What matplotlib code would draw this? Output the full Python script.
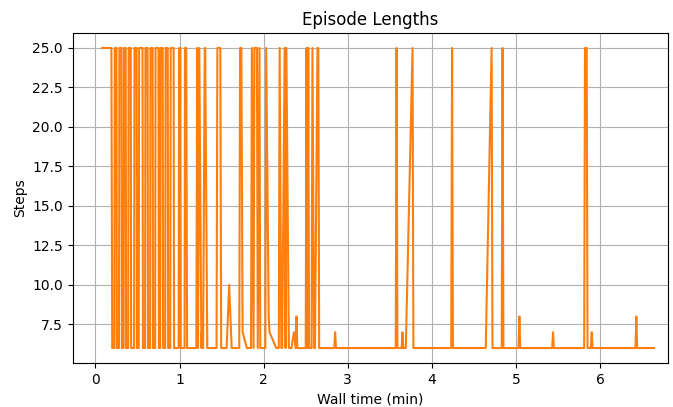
import matplotlib
matplotlib.use("Agg")
import matplotlib.pyplot as plt

# episode end times (minutes) and episode lengths
times = [0.08, 0.19, 0.20, 0.225, 0.23, 0.25, 0.255, 0.28, 0.285, 0.31, 0.315, 0.335,
         0.34, 0.36, 0.365, 0.39, 0.395, 0.42, 0.425, 0.46, 0.465, 0.49, 0.495, 0.515,
         0.52, 0.56, 0.565, 0.59, 0.595, 0.62, 0.625, 0.65, 0.655, 0.68, 0.685, 0.71,
         0.715, 0.75, 0.755, 0.77, 0.775, 0.80, 0.805, 0.83, 0.835, 0.86, 0.865, 0.89,
         0.895, 0.93, 0.935, 0.99, 0.995, 1.01, 1.015, 1.06, 1.065, 1.08, 1.09,
         1.20, 1.21, 1.22, 1.235, 1.26, 1.265, 1.28, 1.30, 1.305, 1.33, 1.34, 1.44,
         1.45, 1.485, 1.495, 1.56, 1.59, 1.62, 1.71, 1.72, 1.735, 1.75, 1.80, 1.85,
         1.86, 1.88, 1.89, 1.92, 1.93, 1.95, 1.96, 2.02, 2.03, 2.06, 2.07, 2.15,
         2.18, 2.19, 2.21, 2.22, 2.25, 2.26, 2.27, 2.30, 2.33, 2.36, 2.38, 2.39,
         2.40, 2.50, 2.51, 2.52, 2.53, 2.54, 2.57, 2.58, 2.60, 2.61, 2.64, 2.65,
         2.66, 2.67, 2.84, 2.85, 2.86, 3.57, 3.58, 3.59, 3.64, 3.65, 3.66, 3.69,
         3.77, 3.78, 4.23, 4.24, 4.25, 4.64, 4.71, 4.72, 4.83, 4.84, 4.85, 5.03,
         5.04, 5.05, 5.43, 5.44, 5.45, 5.81, 5.82, 5.84, 5.85, 5.89, 5.90, 5.91,
         6.42, 6.43, 6.44, 6.64]
steps = [25, 25, 6, 6, 25, 25, 6, 6, 25, 25, 6, 6,
         25, 25, 6, 6, 25, 25, 6, 6, 25, 25, 6, 6,
         25, 25, 6, 6, 25, 25, 6, 6, 25, 25, 6, 6,
         25, 25, 6, 6, 25, 25, 6, 6, 25, 25, 6, 6,
         25, 25, 6, 6, 25, 25, 6, 6, 25, 25, 6,
         6, 25, 6, 25, 6, 7, 6, 25, 25, 6, 6, 6,
         25, 25, 6, 6, 10, 6, 6, 25, 25, 7, 6, 6,
         25, 6, 25, 25, 6, 25, 6, 6, 25, 8, 7, 6,
         6, 25, 6, 6, 25, 6, 25, 6, 6, 7, 6, 8,
         6, 6, 25, 6, 25, 6, 6, 25, 6, 6, 25, 25,
         6, 6, 6, 7, 6, 6, 25, 6, 6, 7, 6, 6,
         25, 6, 6, 25, 6, 6, 25, 6, 6, 25, 6, 6,
         8, 6, 6, 7, 6, 6, 25, 25, 6, 6, 7, 6,
         6, 8, 6, 6]

fig, ax = plt.subplots(figsize=(6.73, 4.07), dpi=100)
fig.subplots_adjust(left=0.108, right=0.993, top=0.919, bottom=0.108)
ax.plot(times, steps, color="tab:orange")
ax.set_title("Episode Lengths")
ax.set_xlabel("Wall time (min)")
ax.set_ylabel("Steps")
ax.set_xlim(-0.27, 6.81)
ax.set_ylim(5.05, 25.95)
ax.set_yticks([7.5, 10, 12.5, 15, 17.5, 20, 22.5, 25])
ax.set_yticklabels(["7.5", "10.0", "12.5", "15.0", "17.5", "20.0", "22.5", "25.0"])
ax.grid(True)
plt.savefig("out.png")
